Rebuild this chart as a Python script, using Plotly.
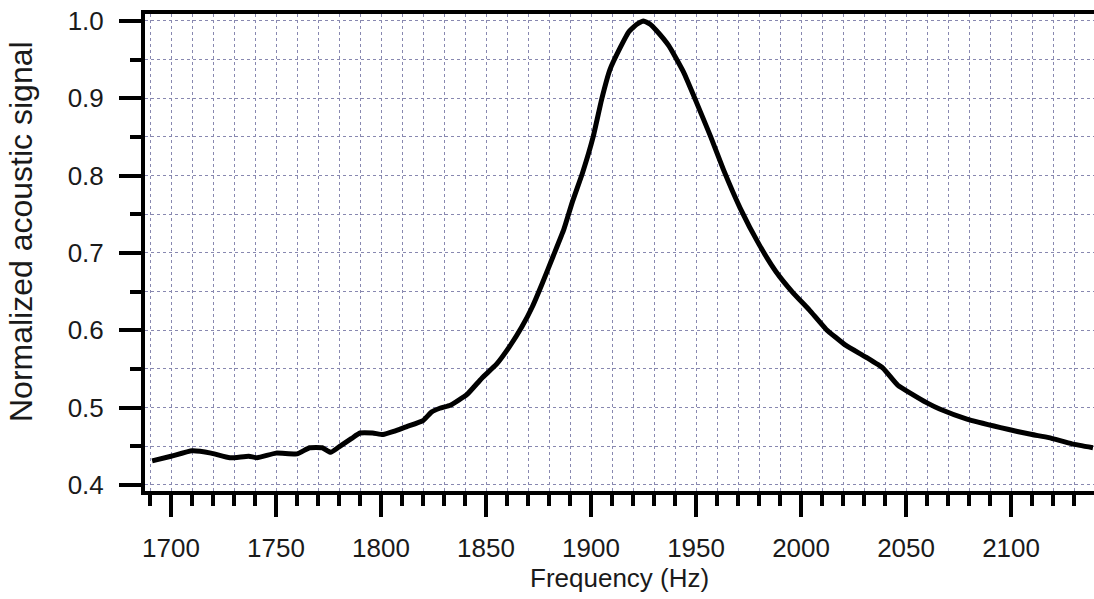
import plotly.graph_objects as go

# Frequency (Hz) and normalized acoustic signal
freq = [1691, 1700, 1710, 1719, 1728, 1737, 1741, 1750, 1760, 1766, 1772, 1776,
        1780, 1786, 1790, 1796, 1801, 1806, 1812, 1820, 1824, 1828, 1833, 1841,
        1848, 1855, 1861, 1867, 1872, 1877, 1882, 1887, 1891, 1896, 1901, 1905,
        1909, 1914, 1918, 1922, 1925, 1928, 1931, 1937, 1944, 1950, 1957, 1963,
        1971, 1980, 1988, 1996, 2004, 2012, 2021, 2031, 2039, 2046, 2053, 2060,
        2066, 2079, 2095, 2103, 2110, 2118, 2129, 2139]
signal = [0.431, 0.437, 0.444, 0.441, 0.435, 0.437, 0.435, 0.441, 0.440, 0.448, 0.448, 0.442,
          0.449, 0.460, 0.467, 0.467, 0.465, 0.469, 0.475, 0.483, 0.494, 0.499, 0.503, 0.517,
          0.538, 0.556, 0.578, 0.604, 0.630, 0.662, 0.696, 0.730, 0.765, 0.804, 0.850, 0.898,
          0.937, 0.966, 0.986, 0.996, 1.000, 0.996, 0.988, 0.968, 0.934, 0.896, 0.850, 0.808,
          0.758, 0.711, 0.676, 0.649, 0.626, 0.601, 0.581, 0.565, 0.551, 0.529, 0.517, 0.506,
          0.498, 0.485, 0.474, 0.469, 0.465, 0.461, 0.453, 0.448]

x_tickvals = [1700, 1750, 1800, 1850, 1900, 1950, 2000, 2050, 2100]
y_tickvals = [0.4, 0.5, 0.6, 0.7, 0.8, 0.9, 1.0]
y_ticktext = ["0.4", "0.5", "0.6", "0.7", "0.8", "0.9", "1.0"]
x_title = "Frequency (Hz)"
y_title = "Normalized acoustic signal"

FONT = "Liberation Sans, Arial, sans-serif"
GRID = "#8888b0"
TXT = "#1a1a1a"

fig = go.Figure()
fig.add_trace(go.Scatter(x=freq, y=signal, mode="lines",
                         line=dict(color="black", width=5, shape="spline", smoothing=0.4),
                         hoverinfo="skip", showlegend=False))

fig.update_layout(
    width=1094, height=599,
    margin=dict(l=145, r=0, t=14, b=108),
    paper_bgcolor="white", plot_bgcolor="white",
    font=dict(family=FONT, color=TXT, size=26),
    xaxis=dict(
        range=[1687.6, 2139.5], tickvals=x_tickvals,
        ticks="outside", ticklen=22, tickwidth=4, tickcolor="black",
        showline=True, linecolor="black", linewidth=4, mirror=True,
        showgrid=True, gridcolor=GRID, gridwidth=1, griddash="3px,3px",
        zeroline=False, ticklabelstandoff=9,
        tickfont=dict(size=26, color=TXT),
        minor=dict(dtick=10, ticks="outside", ticklen=11, tickwidth=4,
                   tickcolor="black", showgrid=True, gridcolor=GRID,
                   gridwidth=1, griddash="3px,3px"),
    ),
    yaxis=dict(
        range=[0.392, 1.009], tickvals=y_tickvals, ticktext=y_ticktext,
        ticks="outside", ticklen=22, tickwidth=4, tickcolor="black",
        showline=True, linecolor="black", linewidth=4, mirror=False,
        showgrid=True, gridcolor=GRID, gridwidth=1, griddash="3px,3px",
        zeroline=False, ticklabelstandoff=10,
        tickfont=dict(size=26, color=TXT),
        minor=dict(dtick=0.05, ticks="outside", ticklen=11, tickwidth=4,
                   tickcolor="black", showgrid=True, gridcolor=GRID,
                   gridwidth=1, griddash="3px,3px"),
    ),
    annotations=[
        dict(text=x_title, xref="paper", yref="paper", x=0.5, y=-0.182,
             xanchor="center", yanchor="middle", showarrow=False,
             font=dict(size=26, color=TXT, family=FONT)),
        dict(text=y_title, xref="paper", yref="paper", x=-0.1307, y=0.545,
             xanchor="center", yanchor="middle", showarrow=False, textangle=-90,
             font=dict(size=32, color=TXT, family=FONT)),
    ],
)

fig.write_html("out.html")
